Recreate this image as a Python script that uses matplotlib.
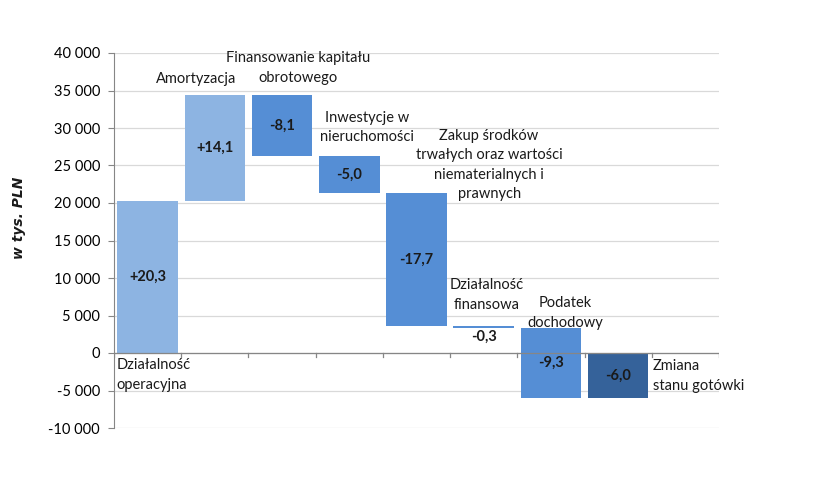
import matplotlib
matplotlib.use("Agg")
import matplotlib.pyplot as plt
import matplotlib.ticker as mticker
import numpy as np

# data (w tys. PLN)
categories = ["Działalność\noperacyjna", "Amortyzacja", "Finansowanie kapitału\nobrotowego",
              "Inwestycje w\nnieruchomości",
              "Zakup środków\ntrwałych oraz wartości\nniematerialnych i\nprawnych",
              "Działalność\nfinansowa", "Podatek\ndochodowy", "Zmiana\nstanu gotówki"]
changes = [20300, 14100, -8100, -5000, -17700, -300, -9300]
total = -6000
kinds = ["plus", "plus", "minus", "minus", "minus", "minus", "minus", "total"]

colors = {"plus": "#8DB4E2", "minus": "#558ED5", "total": "#35629A"}

# waterfall bottoms / heights
cum = np.cumsum([0] + changes)
bottoms = list(cum[:-1]) + [0]
heights = changes + [total]
xs = np.arange(len(heights))

plt.rcParams['font.family'] = ['Lato', 'DejaVu Sans']

fig = plt.figure(figsize=(8.22, 4.84), dpi=100)
ax = fig.add_axes([114/822, 1-428/484, 605/822, 375/484])

ax.bar(xs, heights, bottom=bottoms, width=0.9,
       color=[colors[k] for k in kinds], zorder=3)

ax.set_xlim(-0.5, 8.5)
ax.set_ylim(-10000, 40000)
ax.set_yticks(np.arange(-10000, 40001, 5000))
ax.yaxis.set_major_formatter(mticker.FuncFormatter(
    lambda v, p: "{:,.0f}".format(v).replace(",", " ")))
ax.tick_params(axis='y', labelsize=10.5, length=4, color="#868686", pad=6)
ax.grid(axis='y', color="#D9D9D9", linewidth=0.9, zorder=0)
ax.set_xticks([])
for s in ["top", "right", "bottom"]:
    ax.spines[s].set_visible(False)
ax.spines["left"].set_color("#868686")

# zero line with category ticks
ax.axhline(0, color="#868686", linewidth=0.9, zorder=4)
for b in np.arange(-0.5, 8.51, 1):
    ax.plot([b, b], [0, -500], color="#868686", linewidth=0.9, zorder=4)

# value labels
for i, (b, h) in enumerate(zip(bottoms, heights)):
    txt = ("+" if h > 0 else "-") + "{:.1f}".format(abs(h) / 1000).replace(".", ",")
    y = b + h / 2
    if abs(h) < 1000:
        y = b + h - 1100
    ax.text(xs[i], y, txt, ha="center", va="center", fontsize=10.5,
            fontweight="bold", color="#1A1A1A", zorder=5)

# category labels (x, y, alignment)
label_pos = [(-0.46, -2930, "left"), (0.72, 36600, "center"), (2.24, 38000, "center"),
             (3.26, 30070, "center"), (5.08, 25070, "center"), (5.04, 7730, "center"),
             (6.21, 5330, "center"), (7.52, -3070, "left")]
for name, (x, y, ha) in zip(categories, label_pos):
    ax.text(x, y, name, ha=ha, va="center", fontsize=10.5, color="#1A1A1A",
            linespacing=1.5, multialignment="center" if ha == "center" else "left",
            zorder=5)

fig.text(19/822, 1-218/484, "w tys. PLN", rotation=90, ha="center", va="center",
         fontsize=10, fontstyle="italic", fontweight="bold", color="#1A1A1A",
         family="DejaVu Sans")

fig.savefig("out.png", dpi=100)
